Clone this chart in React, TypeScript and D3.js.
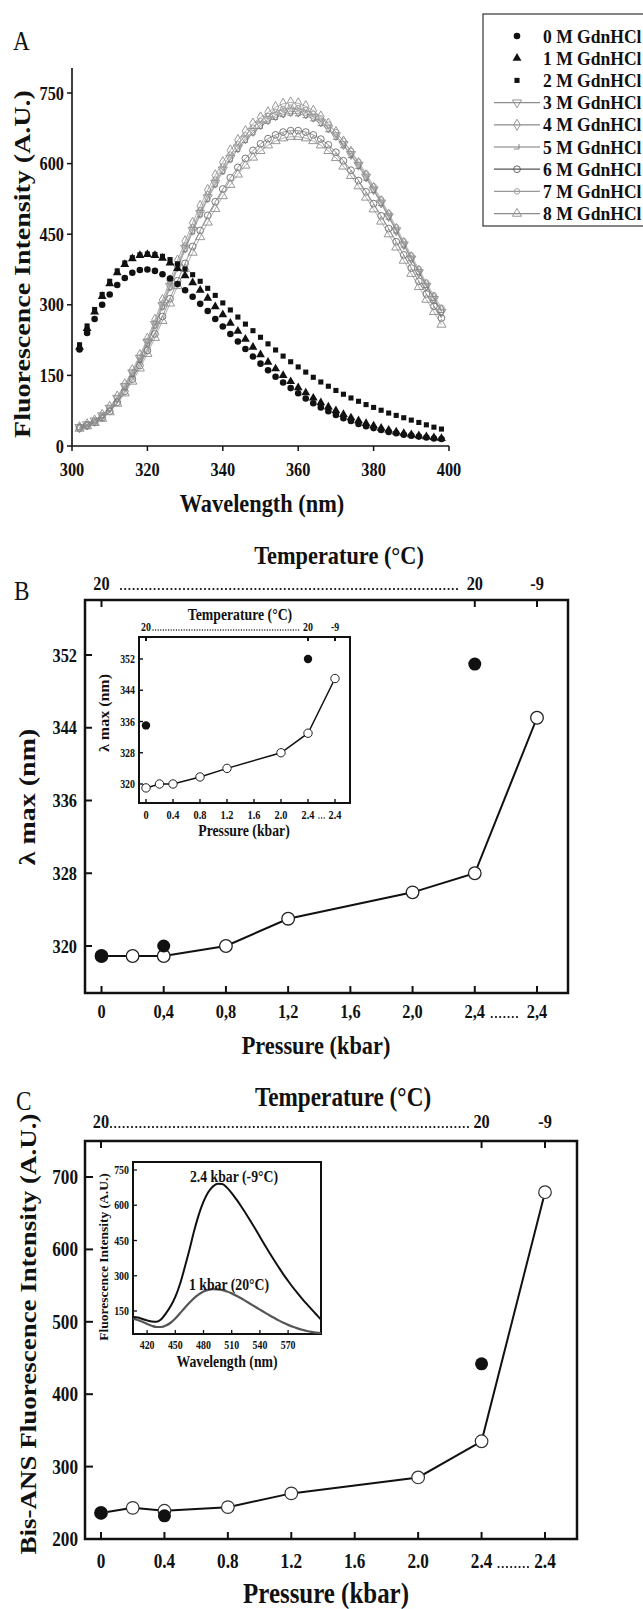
import React from "react";
import * as d3 from "d3";

const FONT = "'Liberation Serif','Times New Roman',Times,serif";
const SX = 0.86;

// ---------------- Panel A data ----------------
const wavelengthA = [302, 304, 306, 308, 310, 312, 314, 316, 318, 320, 322, 324, 326, 328, 330, 332, 334, 336, 338, 340, 342, 344, 346, 348, 350, 352, 354, 356, 358, 360, 362, 364, 366, 368, 370, 372, 374, 376, 378, 380, 382, 384, 386, 388, 390, 392, 394, 396, 398];
const gdn0 = [205, 240, 270, 300, 322, 342, 357, 368, 374, 375, 372, 365, 356, 344, 331, 317, 302, 287, 270, 254, 238, 222, 206, 190, 175, 161, 147, 135, 123, 112, 101, 91, 82, 74, 66, 59, 53, 47, 42, 38, 34, 30, 27, 24, 22, 20, 18, 16, 15];
const gdn1 = [210, 250, 285, 318, 345, 368, 386, 398, 405, 407, 405, 399, 389, 377, 362, 347, 331, 314, 296, 279, 261, 244, 227, 210, 194, 178, 164, 150, 137, 124, 113, 102, 92, 83, 75, 67, 60, 54, 48, 43, 38, 34, 30, 27, 24, 22, 20, 18, 16];
const gdn2 = [215, 255, 290, 322, 350, 372, 389, 400, 406, 408, 407, 403, 396, 387, 376, 364, 350, 335, 320, 304, 289, 274, 259, 245, 231, 217, 204, 191, 179, 168, 157, 146, 136, 127, 118, 110, 102, 95, 88, 82, 76, 70, 65, 60, 55, 50, 45, 40, 36];
const gdn3 = [40, 46, 54, 65, 81, 102, 127, 156, 187, 221, 259, 299, 340, 381, 421, 459, 495, 528, 559, 587, 612, 634, 653, 669, 683, 694, 702, 708, 711, 710, 706, 699, 689, 676, 660, 641, 620, 597, 572, 545, 517, 488, 458, 428, 398, 369, 340, 312, 285];
const gdn4 = [40, 46, 54, 66, 83, 105, 131, 161, 193, 228, 268, 310, 352, 394, 435, 474, 510, 544, 575, 603, 628, 650, 669, 685, 698, 709, 720, 727, 730, 728, 722, 712, 700, 685, 667, 647, 625, 601, 575, 548, 520, 491, 461, 431, 401, 372, 343, 315, 288];
const gdn5 = [39, 45, 53, 64, 79, 99, 124, 152, 183, 217, 255, 295, 336, 377, 417, 455, 491, 524, 555, 583, 608, 630, 649, 665, 679, 690, 698, 704, 707, 706, 702, 695, 685, 672, 656, 638, 617, 594, 569, 543, 515, 486, 457, 427, 398, 369, 341, 314, 288];
const gdn6 = [38, 43, 50, 60, 74, 93, 116, 142, 171, 203, 238, 275, 313, 351, 388, 424, 458, 490, 519, 546, 570, 592, 611, 628, 642, 653, 661, 667, 670, 670, 667, 661, 652, 640, 624, 606, 586, 564, 540, 515, 489, 462, 434, 406, 378, 350, 323, 297, 272];
const gdn7 = [38, 44, 52, 64, 80, 101, 127, 156, 188, 223, 262, 303, 345, 386, 426, 465, 501, 535, 566, 594, 619, 641, 660, 676, 690, 701, 710, 716, 719, 718, 714, 706, 696, 683, 667, 648, 627, 604, 579, 552, 524, 495, 465, 435, 405, 376, 347, 320, 294];
const gdn8 = [37, 42, 49, 58, 72, 90, 112, 137, 165, 196, 230, 266, 303, 340, 376, 411, 444, 475, 504, 531, 555, 577, 596, 613, 627, 639, 648, 654, 657, 657, 654, 648, 639, 627, 612, 594, 574, 552, 528, 503, 477, 450, 422, 394, 366, 338, 311, 285, 258];
const legendLabels = ["0 M GdnHCl", "1 M GdnHCl", "2 M GdnHCl", "3 M GdnHCl", "4 M GdnHCl", "5 M GdnHCl", "6 M GdnHCl", "7 M GdnHCl", "8 M GdnHCl"];
const aXTicks = [300, 320, 340, 360, 380, 400];
const aYTicks = [0, 150, 300, 450, 600, 750];

// ---------------- Panel B / C shared ----------------
const pressureSlots = [0, 0.4, 0.8, 1.2, 1.6, 2.0, 2.4, 2.8];
const pressureLabelsB = ["0", "0,4", "0,8", "1,2", "1,6", "2,0", "2,4", "2,4"];
const pressureLabelsC = ["0", "0.4", "0.8", "1.2", "1.6", "2.0", "2.4", "2.4"];
const pressureLabelsInset = ["0", "0.4", "0.8", "1.2", "1.6", "2.0", "2.4", "2.4"];
const tempSlots = [0, 2.4, 2.8];
const tempLabels = ["20", "20", "-9"];
const measuredP = [0, 0.2, 0.4, 0.8, 1.2, 2.0, 2.4, 2.8];
const filledP = [0, 0.4, 2.4];

// Panel B
const bOpenV = [318.9, 318.9, 318.9, 320.0, 323.0, 325.9, 328.0, 345.1];
const bFillV = [318.9, 320.0, 351.0];
const bYTicks = [320, 328, 336, 344, 352];
// Panel B inset
const biOpenV = [319, 320, 320, 321.8, 324, 328, 333, 347];
const biFillP = [0, 2.4];
const biFillV = [335, 352];

// Panel C
const cOpenV = [236, 243, 239, 244, 263, 285, 335, 679];
const cFillV = [236, 232, 442];
const cYTicks = [200, 300, 400, 500, 600, 700];
// Panel C inset
const ciWl = [405, 410, 415, 420, 425, 430, 435, 440, 445, 450, 455, 460, 465, 470, 475, 480, 485, 490, 495, 500, 505, 510, 515, 520, 525, 530, 535, 540, 545, 550, 555, 560, 565, 570, 575, 580, 585, 590, 595, 600, 605];
const ciHigh = [125, 122, 116, 110, 105, 104, 115, 140, 170, 210, 265, 335, 410, 490, 560, 615, 655, 680, 692, 690, 675, 652, 625, 596, 565, 533, 500, 466, 432, 399, 367, 336, 306, 278, 251, 226, 202, 179, 157, 135, 113];
const ciLow = [118, 112, 104, 95, 87, 82, 82, 88, 100, 118, 140, 163, 185, 205, 221, 233, 240, 243, 242, 239, 233, 225, 215, 204, 192, 180, 168, 156, 144, 132, 121, 110, 100, 91, 83, 76, 70, 65, 61, 58, 56];
const ciXTicks = [420, 450, 480, 510, 540, 570];
const ciYTicks = [150, 300, 450, 600, 750];

// ---------------- helpers ----------------
function Txt({ x, y, size, children, anchor = "middle", weight = 700, rot = false, sx = SX, fill = "#111" }: any) {
  const transform = rot
    ? `translate(${x},${y}) rotate(-90) scale(1,${sx})`
    : `translate(${x},${y}) scale(${sx},1)`;
  return (
    <text transform={transform} fontSize={size} fontWeight={weight} textAnchor={anchor} fill={fill} fontFamily={FONT}>
      {children}
    </text>
  );
}

function Dots({ x1, x2, y, w = 2.2, gap = 4.2 }: any) {
  return <line x1={x1} x2={x2} y1={y} y2={y} stroke="#111" strokeWidth={w} strokeDasharray={`0 ${gap}`} strokeLinecap="round" />;
}

const symGen = (type: any, size: number) => d3.symbol().type(type).size(size)() as string;
const hookPath = "M-3.2,2 L2,2 L2,-3";

type SeriesStyle = { data: number[]; kind: string; filled: boolean; color: string };
const seriesA: SeriesStyle[] = [
  { data: gdn3, kind: "tridown", filled: false, color: "#8c8c8c" },
  { data: gdn4, kind: "diamond", filled: false, color: "#8c8c8c" },
  { data: gdn5, kind: "hook", filled: false, color: "#7a7a7a" },
  { data: gdn6, kind: "circle", filled: false, color: "#6a6a6a" },
  { data: gdn7, kind: "smallcircle", filled: false, color: "#999" },
  { data: gdn8, kind: "triup", filled: false, color: "#8c8c8c" },
  { data: gdn0, kind: "circle", filled: true, color: "#111" },
  { data: gdn1, kind: "triup", filled: true, color: "#111" },
  { data: gdn2, kind: "square", filled: true, color: "#111" },
];
const legendKinds = [
  { kind: "circle", filled: true, color: "#111" },
  { kind: "triup", filled: true, color: "#111" },
  { kind: "square", filled: true, color: "#111" },
  { kind: "tridown", filled: false, color: "#8c8c8c" },
  { kind: "diamond", filled: false, color: "#8c8c8c" },
  { kind: "hook", filled: false, color: "#7a7a7a" },
  { kind: "circle", filled: false, color: "#555" },
  { kind: "smallcircle", filled: false, color: "#999" },
  { kind: "triup", filled: false, color: "#8c8c8c" },
];

function Marker({ kind, filled, color, x, y, scale = 1 }: any) {
  const fill = filled ? color : "none";
  const stroke = filled ? "none" : color;
  let d = "";
  let rot = 0;
  if (kind === "circle") d = symGen(d3.symbolCircle, (filled ? 34 : 36) * scale);
  else if (kind === "smallcircle") d = symGen(d3.symbolCircle, 24 * scale);
  else if (kind === "triup") d = symGen(d3.symbolTriangle, (filled ? 34 : 36) * scale);
  else if (kind === "tridown") { d = symGen(d3.symbolTriangle, 36 * scale); rot = 180; }
  else if (kind === "square") d = symGen(d3.symbolSquare, 26 * scale);
  else if (kind === "diamond") d = symGen(d3.symbolDiamond, 36 * scale);
  else if (kind === "hook") d = hookPath;
  return (
    <path d={d} transform={`translate(${x},${y}) rotate(${rot})`} fill={fill} stroke={stroke} strokeWidth={0.9} />
  );
}

// ---------------- scales ----------------
const xA = d3.scaleLinear().domain([300, 400]).range([72, 449]);
const yA = d3.scaleLinear().domain([0, 750]).range([446, 93]);

const B_TOP = 600, B_BOT = 993;
const xB = d3.scaleLinear().domain([0, 2.8]).range([101.5, 537]);
const yB = d3.scaleLinear().domain([320, 352]).range([946, 655]);
const BI_TOP = 637, BI_BOT = 803;
const xBi = d3.scaleLinear().domain([0, 2.8]).range([146, 335]);
const yBi = d3.scaleLinear().domain([320, 352]).range([784, 659]);

const C_TOP = 1141, C_BOT = 1539;
const xC = d3.scaleLinear().domain([0, 2.8]).range([101, 545]);
const yC = d3.scaleLinear().domain([200, 700]).range([1539, 1177]);
const CI_TOP = 1162, CI_BOT = 1334;
const xCi = d3.scaleLinear().domain([405, 605]).range([133, 321]);
const yCi = d3.scaleLinear().domain([150, 750]).range([1311, 1170]);

function PanelA() {
  const line = d3.line<number>().x((_, i) => xA(wavelengthA[i])).y((d) => yA(d));
  return (
    <g>
      <Txt x={13} y={50} size={27} weight={400} anchor="start">A</Txt>
      {seriesA.map((s, si) => (
        <g key={si}>
          {!s.filled && <path d={line(s.data) as string} fill="none" stroke={s.color} strokeWidth={0.7} />}
          {s.data.map((v, i) => (
            <Marker key={i} kind={s.kind} filled={s.filled} color={s.color} x={xA(wavelengthA[i])} y={yA(v)} />
          ))}
        </g>
      ))}
      <line x1={72} x2={72} y1={68} y2={446} stroke="#111" strokeWidth={1.6} />
      <line x1={72} x2={449} y1={446} y2={446} stroke="#111" strokeWidth={1.6} />
      {aYTicks.map((t) => (
        <g key={t}>
          <line x1={67} x2={72} y1={yA(t)} y2={yA(t)} stroke="#111" strokeWidth={1.5} />
          <Txt x={64} y={yA(t) + 6.5} size={19} anchor="end">{t}</Txt>
        </g>
      ))}
      {aXTicks.map((t) => (
        <g key={t}>
          <line x1={xA(t)} x2={xA(t)} y1={446} y2={451} stroke="#111" strokeWidth={1.5} />
          <Txt x={xA(t)} y={476} size={19}>{t}</Txt>
        </g>
      ))}
      <Txt x={262} y={512} size={26}>Wavelength (nm)</Txt>
      <Txt x={30} y={264} size={28} rot>Fluorescence Intensity (A.U.)</Txt>
      <rect x={483} y={14} width={200} height={212} fill="#fff" stroke="#333" strokeWidth={1.2} />
      {legendLabels.map((lab, i) => {
        const y = 36 + i * 22.2;
        const k = legendKinds[i];
        return (
          <g key={lab}>
            {i >= 3 && <line x1={494} x2={540} y1={y} y2={y} stroke={k.color} strokeWidth={1.2} />}
            <Marker kind={k.kind} filled={k.filled} color={k.color} x={517} y={y} scale={1.0} />
            <Txt x={543} y={y + 6.5} size={19.5} anchor="start" sx={0.9}>{lab}</Txt>
          </g>
        );
      })}
    </g>
  );
}

function TopTempAxis({ x, tickY, frameTop, dotsFrom, dotsTo, labelSize, tickLen, titleX, titleY, titleSize }: any) {
  return (
    <g>
      <Txt x={titleX} y={titleY} size={titleSize}>Temperature (°C)</Txt>
      {tempSlots.map((p, i) => (
        <g key={i}>
          <Txt x={x(p)} y={tickY} size={labelSize}>{tempLabels[i]}</Txt>
          <line x1={x(p)} x2={x(p)} y1={frameTop} y2={frameTop + tickLen} stroke="#111" strokeWidth={2} />
        </g>
      ))}
      <Dots x1={dotsFrom} x2={dotsTo} y={tickY - 1} w={labelSize > 14 ? 2.2 : 1.4} gap={labelSize > 14 ? 4.2 : 2.6} />
    </g>
  );
}

function PanelB() {
  const openLine = d3.line<number>().x((_, i) => xB(measuredP[i])).y((d) => yB(d));
  const openLineI = d3.line<number>().x((_, i) => xBi(measuredP[i])).y((d) => yBi(d));
  return (
    <g>
      <Txt x={14} y={600} size={27} weight={400} anchor="start">B</Txt>
      <TopTempAxis x={xB} tickY={590} frameTop={B_TOP} dotsFrom={121} dotsTo={461} labelSize={19} tickLen={7} titleX={339} titleY={564} titleSize={26} />
      <rect x={85} y={B_TOP} width={483} height={B_BOT - B_TOP} fill="none" stroke="#111" strokeWidth={2.5} />
      {bYTicks.map((t) => (
        <g key={t}>
          <line x1={85} x2={92} y1={yB(t)} y2={yB(t)} stroke="#111" strokeWidth={2} />
          <Txt x={77} y={yB(t) + 6.5} size={19} anchor="end">{t}</Txt>
        </g>
      ))}
      {pressureSlots.map((p, i) => (
        <g key={i}>
          <line x1={xB(p)} x2={xB(p)} y1={B_BOT} y2={B_BOT - 7} stroke="#111" strokeWidth={2} />
          <Txt x={xB(p)} y={B_BOT + 25} size={19}>{pressureLabelsB[i]}</Txt>
        </g>
      ))}
      <Dots x1={xB(2.4) + 17} x2={xB(2.8) - 17} y={B_BOT + 24} />
      <Txt x={316} y={B_BOT + 61} size={26}>Pressure (kbar)</Txt>
      <Txt x={35} y={797} size={28} rot>λ max (nm)</Txt>
      <path d={openLine(bOpenV) as string} fill="none" stroke="#111" strokeWidth={2} />
      {bOpenV.map((v, i) => (
        <circle key={i} cx={xB(measuredP[i])} cy={yB(v)} r={6.3} fill="#fff" stroke="#222" strokeWidth={1.3} />
      ))}
      {bFillV.map((v, i) => (
        <circle key={i} cx={xB(filledP[i])} cy={yB(v)} r={6.5} fill="#111" />
      ))}

      {/* inset */}
      <rect x={139} y={BI_TOP} width={211} height={BI_BOT - BI_TOP} fill="#fff" stroke="#111" strokeWidth={2} />
      <TopTempAxis x={xBi} tickY={631} frameTop={BI_TOP} dotsFrom={153} dotsTo={301} labelSize={11.5} tickLen={4} titleX={240} titleY={620} titleSize={16} />
      {bYTicks.map((t) => (
        <g key={t}>
          <line x1={139} x2={143} y1={yBi(t)} y2={yBi(t)} stroke="#111" strokeWidth={1.4} />
          <Txt x={135} y={yBi(t) + 4} size={11.5} anchor="end">{t}</Txt>
        </g>
      ))}
      {pressureSlots.map((p, i) => (
        <g key={i}>
          <line x1={xBi(p)} x2={xBi(p)} y1={BI_BOT} y2={BI_BOT - 4} stroke="#111" strokeWidth={1.4} />
          <Txt x={xBi(p)} y={BI_BOT + 16} size={12}>{pressureLabelsInset[i]}</Txt>
        </g>
      ))}
      <Dots x1={xBi(2.4) + 11} x2={xBi(2.8) - 10} y={BI_BOT + 15} w={1.4} gap={2.6} />
      <Txt x={244} y={BI_BOT + 33} size={16}>Pressure (kbar)</Txt>
      <Txt x={109} y={713} size={16} rot>λ max (nm)</Txt>
      <path d={openLineI(biOpenV) as string} fill="none" stroke="#111" strokeWidth={1.5} />
      {biOpenV.map((v, i) => (
        <circle key={i} cx={xBi(measuredP[i])} cy={yBi(v)} r={4.2} fill="#fff" stroke="#222" strokeWidth={1} />
      ))}
      {biFillV.map((v, i) => (
        <circle key={i} cx={xBi(biFillP[i])} cy={yBi(v)} r={4.2} fill="#111" />
      ))}
    </g>
  );
}

function PanelC() {
  const openLine = d3.line<number>().x((_, i) => xC(measuredP[i])).y((d) => yC(d));
  const specLine = d3.line<number>().x((_, i) => xCi(ciWl[i])).y((d) => yCi(d)).curve(d3.curveMonotoneX);
  return (
    <g>
      <Txt x={16} y={1110} size={27} weight={400} anchor="start">C</Txt>
      <TopTempAxis x={xC} tickY={1128} frameTop={C_TOP} dotsFrom={111} dotsTo={470} labelSize={19} tickLen={7} titleX={343} titleY={1106} titleSize={27} />
      <rect x={85} y={C_TOP} width={492} height={C_BOT - C_TOP} fill="none" stroke="#111" strokeWidth={2.5} />
      {cYTicks.map((t) => (
        <g key={t}>
          <line x1={85} x2={93} y1={yC(t)} y2={yC(t)} stroke="#111" strokeWidth={2} />
          <Txt x={78} y={yC(t) + 7} size={20} anchor="end">{t}</Txt>
        </g>
      ))}
      {pressureSlots.map((p, i) => (
        <g key={i}>
          <line x1={xC(p)} x2={xC(p)} y1={C_BOT} y2={C_BOT - 7} stroke="#111" strokeWidth={2} />
          <Txt x={xC(p)} y={1568} size={20}>{pressureLabelsC[i]}</Txt>
        </g>
      ))}
      <Dots x1={xC(2.4) + 17} x2={xC(2.8) - 17} y={1567} />
      <Txt x={326} y={1603} size={29}>Pressure (kbar)</Txt>
      <Txt x={36} y={1334} size={27} rot>Bis-ANS Fluorescence Intensity (A.U.)</Txt>
      <path d={openLine(cOpenV) as string} fill="none" stroke="#111" strokeWidth={2} />
      {cOpenV.map((v, i) => (
        <circle key={i} cx={xC(measuredP[i])} cy={yC(v)} r={6.3} fill="#fff" stroke="#333" strokeWidth={1.2} />
      ))}
      {cFillV.map((v, i) => (
        <circle key={i} cx={xC(filledP[i])} cy={yC(v)} r={6.5} fill="#111" />
      ))}

      {/* inset */}
      <rect x={133} y={CI_TOP} width={188} height={CI_BOT - CI_TOP} fill="#fff" stroke="#111" strokeWidth={2} />
      <clipPath id="ciClip"><rect x={133} y={CI_TOP} width={188} height={CI_BOT - CI_TOP} /></clipPath>
      <g clipPath="url(#ciClip)">
        <path d={specLine(ciLow) as string} fill="none" stroke="#555" strokeWidth={2.2} />
        <path d={specLine(ciHigh) as string} fill="none" stroke="#111" strokeWidth={2} />
      </g>
      <Txt x={234} y={1182} size={16}>2.4 kbar (-9°C)</Txt>
      <Txt x={229} y={1290} size={16}>1 kbar (20°C)</Txt>
      {ciYTicks.map((t) => (
        <g key={t}>
          <line x1={133} x2={137} y1={yCi(t)} y2={yCi(t)} stroke="#111" strokeWidth={1.3} />
          <Txt x={129} y={yCi(t) + 4} size={11.5} anchor="end">{t}</Txt>
        </g>
      ))}
      {ciXTicks.map((t) => (
        <g key={t}>
          <line x1={xCi(t)} x2={xCi(t)} y1={CI_BOT} y2={CI_BOT - 4} stroke="#111" strokeWidth={1.3} />
          <Txt x={xCi(t)} y={CI_BOT + 15} size={11.5}>{t}</Txt>
        </g>
      ))}
      <Txt x={227} y={CI_BOT + 33} size={16}>Wavelength (nm)</Txt>
      <Txt x={108} y={1257} size={13.5} rot>Fluorescence Intensity (A.U.)</Txt>
    </g>
  );
}

export default function App() {
  return (
    <svg width={643} height={1609} viewBox="0 0 643 1609" style={{ position: "absolute", left: 0, top: 0, background: "#fff" }}>
      <rect x={0} y={0} width={643} height={1609} fill="#fff" />
      <PanelA />
      <PanelB />
      <PanelC />
    </svg>
  );
}
